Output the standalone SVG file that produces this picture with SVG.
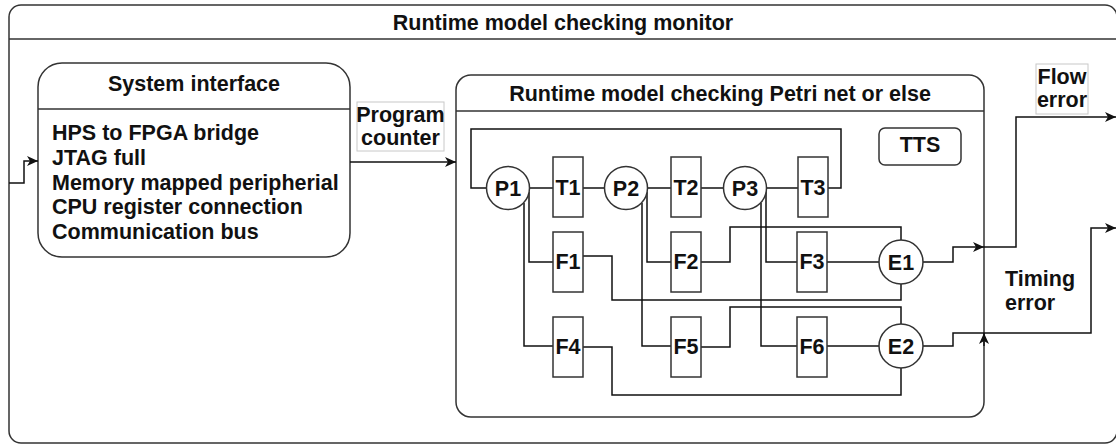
<svg xmlns="http://www.w3.org/2000/svg" width="1116" height="447" viewBox="0 0 1116 447">
  <defs>
    <marker id="arrow" markerUnits="userSpaceOnUse" markerWidth="12" markerHeight="10" refX="11" refY="5" orient="auto">
      <path d="M0,0 L11,5 L0,10 L3,5 Z" fill="#111"/>
    </marker>
  </defs>
  <style>
    .box{fill:#fff;stroke:#333;stroke-width:1.5}
    .sep{fill:none;stroke:#333;stroke-width:1.5}
    .lbl{fill:#fff;stroke:#c8c8c8;stroke-width:1}
    .wire{fill:none;stroke:#111;stroke-width:1.5}
    .arr{marker-end:url(#arrow)}
    .node{fill:#fff;stroke:#333;stroke-width:1.5}
    text{font-family:"Liberation Sans",Arial,Helvetica,sans-serif;font-weight:bold;font-size:21.5px;fill:#111}
    .c{text-anchor:middle}
  </style>

  <!-- outer container -->
  <g id="monitor">
    <rect class="box" x="9" y="5" width="1108" height="438" rx="12"/>
    <path class="sep" d="M9,39 H1117"/>
    <text class="c" x="563" y="30">Runtime model checking monitor</text>
  </g>

  <!-- interface block -->
  <g id="system-interface">
    <rect class="box" x="38" y="63" width="312" height="194" rx="24"/>
    <path class="sep" d="M38,109 H350"/>
    <text class="c" x="194" y="91">System interface</text>
    <text x="52" y="140">HPS to FPGA bridge</text>
    <text x="52" y="164.75">JTAG full</text>
    <text x="52" y="189.5">Memory mapped peripherial</text>
    <text x="52" y="214.25">CPU register connection</text>
    <text x="52" y="239">Communication bus</text>
  </g>

  <!-- Petri net container -->
  <g id="petri-net">
    <rect class="box" x="456" y="75" width="528" height="342" rx="15"/>
    <path class="sep" d="M456,111 H984"/>
    <text class="c" x="720" y="101">Runtime model checking Petri net or else</text>
  </g>

  <g id="tts">
    <rect class="node" x="879" y="128" width="82" height="37" rx="6"/>
    <text class="c" x="920" y="152">TTS</text>
  </g>

  <!-- connectors -->
  <g id="connectors">
    <path class="wire arr" d="M9,183 H24 V161 H38"/>
    <path class="wire arr" d="M350,162 H456"/>
    <!-- main cycle -->
    <path class="wire" d="M508,188 H471 V129 H841 V188 H813"/>
    <path class="wire" d="M508,188 H813"/>
    <!-- place branches -->
    <path class="wire" d="M529,192 V262 H568"/>
    <path class="wire" d="M524,203 V346 H568"/>
    <path class="wire" d="M647,192 V262 H686"/>
    <path class="wire" d="M642,203 V346 H686"/>
    <path class="wire" d="M766,192 V262 H812"/>
    <path class="wire" d="M761,203 V346 H812"/>
    <!-- F outputs to error places -->
    <path class="wire" d="M583,256 H612 V300 H901 V262"/>
    <path class="wire" d="M701,262 H730 V227 H901 V262"/>
    <path class="wire" d="M812,262 H901"/>
    <path class="wire" d="M583,347 H612 V395 H901 V346"/>
    <path class="wire" d="M701,347 H730 V307 H901 V346"/>
    <path class="wire" d="M812,346 H901"/>
    <!-- error outputs -->
    <path class="wire arr" d="M922,262 H953 V247 H984"/>
    <path class="wire" d="M922,346 H953 V333 H984"/>
    <path class="wire arr" d="M984,346 V333"/>
    <path class="wire arr" d="M984,247 H1016 V117 H1116"/>
    <path class="wire arr" d="M984,333 H1091 V228 H1116"/>
  </g>

  <!-- edge labels -->
  <g id="label-program-counter">
    <rect class="lbl" x="357" y="102" width="87" height="49"/>
    <text class="c" x="400.5" y="122">Program</text>
    <text class="c" x="400.5" y="145">counter</text>
  </g>
  <g id="label-flow-error">
    <rect class="lbl" x="1036" y="64" width="52" height="50"/>
    <text class="c" x="1062" y="84">Flow</text>
    <text class="c" x="1062" y="107">error</text>
  </g>
  <g id="label-timing-error">
    <text x="1005" y="286">Timing</text>
    <text x="1005" y="310">error</text>
  </g>

  <!-- places -->
  <g id="P1"><circle class="node" cx="508" cy="188" r="21.5"/><text class="c" x="508" y="196">P1</text></g>
  <g id="P2"><circle class="node" cx="626" cy="188" r="21.5"/><text class="c" x="626" y="196">P2</text></g>
  <g id="P3"><circle class="node" cx="745" cy="188" r="21.5"/><text class="c" x="745" y="196">P3</text></g>

  <!-- transitions -->
  <g id="T1"><rect class="node" x="553" y="157" width="30" height="60"/><text class="c" x="568" y="195">T1</text></g>
  <g id="T2"><rect class="node" x="671" y="157" width="30" height="60"/><text class="c" x="686" y="195">T2</text></g>
  <g id="T3"><rect class="node" x="798" y="157" width="30" height="60"/><text class="c" x="813" y="195">T3</text></g>

  <g id="F1"><rect class="node" x="553" y="232" width="30" height="60"/><text class="c" x="568" y="269">F1</text></g>
  <g id="F2"><rect class="node" x="671" y="232" width="30" height="60"/><text class="c" x="686" y="269">F2</text></g>
  <g id="F3"><rect class="node" x="797" y="232" width="30" height="60"/><text class="c" x="812" y="269">F3</text></g>
  <g id="F4"><rect class="node" x="553" y="317" width="30" height="60"/><text class="c" x="568" y="354">F4</text></g>
  <g id="F5"><rect class="node" x="671" y="317" width="30" height="60"/><text class="c" x="686" y="354">F5</text></g>
  <g id="F6"><rect class="node" x="797" y="317" width="30" height="60"/><text class="c" x="812" y="354">F6</text></g>

  <!-- error places -->
  <g id="E1"><circle class="node" cx="901" cy="262" r="22"/><text class="c" x="901" y="270">E1</text></g>
  <g id="E2"><circle class="node" cx="901" cy="346" r="22"/><text class="c" x="901" y="354">E2</text></g>
</svg>
